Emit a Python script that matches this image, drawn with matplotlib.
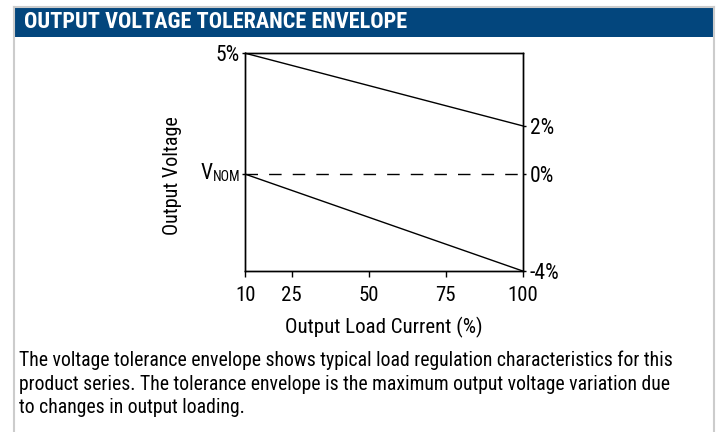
import matplotlib
matplotlib.use('Agg')
import matplotlib.pyplot as plt
from matplotlib.patches import Rectangle
from matplotlib.lines import Line2D

plt.rcParams['font.family'] = ['Roboto Condensed', 'Archivo Narrow', 'PT Sans Narrow', 'DejaVu Sans']

# data
load = [10, 100]
upper = [5, 2]
lower = [0, -4]
nominal = [0, 0]
xticks = [10, 25, 50, 75, 100]
left_ticks = [5, 0]
left_labels = ['5%', '']
right_ticks = [2, 0, -4]
right_labels = ['2%', '0%', '-4%']

title = 'OUTPUT VOLTAGE TOLERANCE ENVELOPE'
note_lines = ['The voltage tolerance envelope shows typical load regulation characteristics for this',
              'product series. The tolerance envelope is the maximum output voltage variation due',
              'to changes in output loading.']

W, H = 717, 432
fig = plt.figure(figsize=(W / 100, H / 100), dpi=100)

def fx(px):
    return px / W

def fy(py):
    return 1 - py / H

# frame + header band
fig.add_artist(Line2D([fx(13.5), fx(13.5)], [fy(7), 0], color='#cccccc', lw=1.5))
fig.add_artist(Line2D([fx(713.5), fx(713.5)], [fy(7), 0], color='#cccccc', lw=1.5))
fig.add_artist(Line2D([fx(13.5), fx(713.5)], [fy(7), fy(7)], color='#cccccc', lw=1.5))
fig.add_artist(Rectangle((fx(14), fy(36.5)), fx(699), 29 / H, color='#03467d', lw=0))
fig.text(fx(24), fy(22.5), title, color='white', fontsize=16, fontweight='bold', va='center', ha='left')

# plot area
ax = fig.add_axes([fx(245.5), fy(271), fx(277.2), 217.7 / H])
ax.plot(load, upper, color='black', lw=1.0, clip_on=False)
ax.plot(load, lower, color='black', lw=1.0, clip_on=False)
ax.plot(load, nominal, color='black', lw=1.0, dashes=(9, 8), clip_on=False)
ax.set_xlim(10, 100)
ax.set_ylim(-4, 5)
for s in ax.spines.values():
    s.set_linewidth(1.0)

ax.set_xticks(xticks)
ax.set_xticklabels([str(v) for v in xticks])
ax.tick_params(axis='x', direction='out', length=4, width=1.0, pad=7, labelsize=15)
ax.set_yticks(left_ticks)
ax.set_yticklabels(left_labels)
ax.tick_params(axis='y', direction='out', length=2, width=1.0, pad=2, labelsize=15.5)

ax2 = ax.twinx()
ax2.set_ylim(-4, 5)
ax2.set_yticks(right_ticks)
ax2.set_yticklabels(right_labels)
ax2.tick_params(axis='y', direction='out', length=2, width=1.0, pad=3, labelsize=15.5)
for s in ax2.spines.values():
    s.set_linewidth(1.0)

# V_NOM label
nom = ax.annotate('NOM', xy=(0, 0), xycoords=('axes fraction', 'data'),
                  xytext=(-3.5, -5), textcoords='offset points',
                  ha='right', va='baseline', fontsize=10)
ax.annotate('V', xy=(0, 0), xycoords=nom, ha='right', va='bottom', fontsize=15.5)

ax.set_xlabel('Output Load Current (%)', fontsize=15)
ax.xaxis.set_label_coords(0.5, -0.212)
ax.set_ylabel('Output Voltage', fontsize=14.5)
ax.yaxis.set_label_coords(-0.229, 0.436)

for i, line in enumerate(note_lines):
    fig.text(fx(19), fy(366 + 23.7 * i), line, fontsize=14.2, ha='left', va='baseline')

fig.savefig('out.png', dpi=100)
